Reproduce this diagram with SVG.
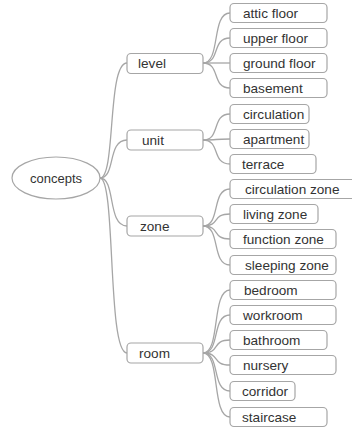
<svg xmlns="http://www.w3.org/2000/svg" width="352" height="429" viewBox="0 0 352 429">
<style>
.n{fill:#fff;stroke:#a6a6a6;stroke-width:1.2}
.t{font-family:"Liberation Sans",Arial,sans-serif;font-size:13.6px;fill:#333}
.r{font-size:13px}
.c{fill:none;stroke:#a6a6a6;stroke-width:1.3}
</style>
<rect width="352" height="429" fill="#fff"/>
<g id="connectors">
<path class="c" d="M100,178 C116,178 107,63 127,63"/>
<path class="c" d="M100,178 C116,178 107,140 127,140"/>
<path class="c" d="M100,178 C116,178 107,226 127,226"/>
<path class="c" d="M100,178 C116,178 107,353 127,353"/>
<path class="c" d="M203,63 C221,63 211,13 230,13"/>
<path class="c" d="M203,63 C221,63 211,38 230,38"/>
<path class="c" d="M203,63 C221,63 211,63 230,63"/>
<path class="c" d="M203,63 C221,63 211,88 230,88"/>
<path class="c" d="M203,140 C221,140 211,114 230,114"/>
<path class="c" d="M203,140 C221,140 211,139 230,139"/>
<path class="c" d="M203,140 C221,140 211,164 230,164"/>
<path class="c" d="M203,226 C221,226 211,189 230,189"/>
<path class="c" d="M203,226 C221,226 211,214 230,214"/>
<path class="c" d="M203,226 C221,226 211,239 230,239"/>
<path class="c" d="M203,226 C221,226 211,265 230,265"/>
<path class="c" d="M203,353 C221,353 211,290 230,290"/>
<path class="c" d="M203,353 C221,353 211,315 230,315"/>
<path class="c" d="M203,353 C221,353 211,340 230,340"/>
<path class="c" d="M203,353 C221,353 211,365 230,365"/>
<path class="c" d="M203,353 C221,353 211,391 230,391"/>
<path class="c" d="M203,353 C221,353 211,417 230,417"/>
</g>
<g id="concepts"><ellipse class="n" cx="56" cy="178" rx="44" ry="21"/><text class="t r" x="56" y="183" text-anchor="middle">concepts</text></g>
<g id="level"><rect class="n" x="127" y="53.5" width="76" height="20" rx="4"/><text class="t" x="138" y="68">level</text></g>
<g id="unit"><rect class="n" x="127" y="130" width="76" height="20" rx="4"/><text class="t" x="142" y="145">unit</text></g>
<g id="zone"><rect class="n" x="127" y="216" width="76" height="20" rx="4"/><text class="t" x="140" y="231">zone</text></g>
<g id="room"><rect class="n" x="127" y="343" width="76" height="20" rx="4"/><text class="t" x="139" y="358">room</text></g>
<g id="attic-floor"><rect class="n" x="230" y="3.5" width="97" height="19" rx="4"/><text class="t" x="243" y="18">attic floor</text></g>
<g id="upper-floor"><rect class="n" x="230" y="28.5" width="97" height="19" rx="4"/><text class="t" x="243" y="43">upper floor</text></g>
<g id="ground-floor"><rect class="n" x="230" y="53.5" width="97" height="19" rx="4"/><text class="t" x="243" y="68">ground floor</text></g>
<g id="basement"><rect class="n" x="230" y="78.5" width="97" height="19" rx="4"/><text class="t" x="243" y="93">basement</text></g>
<g id="circulation"><rect class="n" x="230" y="104.5" width="79" height="19" rx="4"/><text class="t" x="243" y="119">circulation</text></g>
<g id="apartment"><rect class="n" x="230" y="129.5" width="79" height="19" rx="4"/><text class="t" x="243" y="144">apartment</text></g>
<g id="terrace"><rect class="n" x="230" y="154.5" width="86" height="19" rx="4"/><text class="t" x="242" y="169">terrace</text></g>
<g id="circulation-zone"><rect class="n" x="230" y="179.5" width="126" height="19" rx="4"/><text class="t" x="245" y="194">circulation zone</text></g>
<g id="living-zone"><rect class="n" x="230" y="204.5" width="88" height="19" rx="4"/><text class="t" x="243" y="219">living zone</text></g>
<g id="function-zone"><rect class="n" x="230" y="229.5" width="106" height="19" rx="4"/><text class="t" x="243" y="244">function zone</text></g>
<g id="sleeping-zone"><rect class="n" x="230" y="255.5" width="106" height="19" rx="4"/><text class="t" x="245" y="270">sleeping zone</text></g>
<g id="bedroom"><rect class="n" x="230" y="280.5" width="106" height="19" rx="4"/><text class="t" x="244" y="295">bedroom</text></g>
<g id="workroom"><rect class="n" x="230" y="305.5" width="106" height="19" rx="4"/><text class="t" x="243" y="320">workroom</text></g>
<g id="bathroom"><rect class="n" x="230" y="330.5" width="97" height="19" rx="4"/><text class="t" x="243" y="345">bathroom</text></g>
<g id="nursery"><rect class="n" x="230" y="355.5" width="106" height="19" rx="4"/><text class="t" x="243" y="370">nursery</text></g>
<g id="corridor"><rect class="n" x="230" y="381.5" width="65" height="19" rx="4"/><text class="t" x="242" y="396">corridor</text></g>
<g id="staircase"><rect class="n" x="230" y="407.5" width="97" height="19" rx="4"/><text class="t" x="242" y="422">staircase</text></g>
</svg>
